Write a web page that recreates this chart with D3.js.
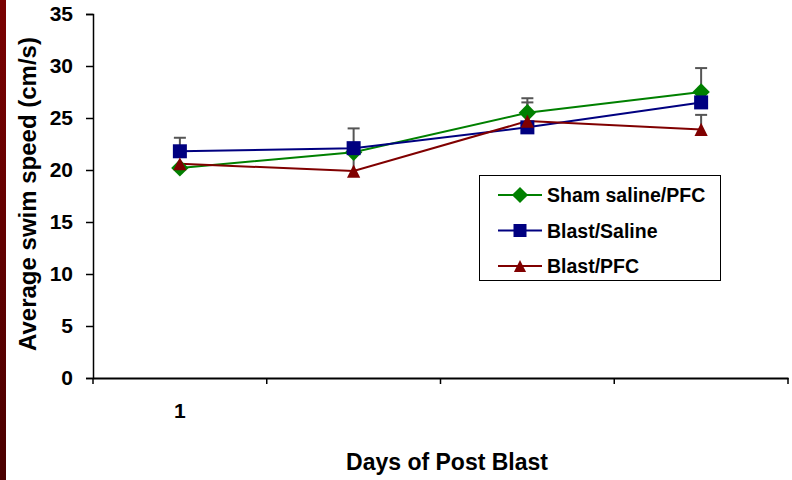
<!DOCTYPE html>
<html lang="en">
<head>
  <meta charset="UTF-8">
  <title>Average swim speed</title>
  <style>
    body { margin: 0; background: #fff; }
    svg { display: block; font-family: Arial, "Liberation Sans", sans-serif; }
  </style>
</head>
<body>
  <svg width="792" height="480"></svg>
  <script src="https://d3js.org/d3.v7.min.js"></script>
  <script>

  var days = ['d1', 'd2', 'd3', 'd4'];
  var dayLabels = ['1', '', '', ''];
  var yTicks = [0, 5, 10, 15, 20, 25, 30, 35];

  var shamValues = [20.2, 21.7, 25.5, 27.5];
  var shamErr = [0, 0, 1.4, 2.3];
  var salineValues = [21.8, 22.1, 24.1, 26.5];
  var salineErr = [1.3, 1.9, 2.4, 0];
  var pfcValues = [20.6, 19.9, 24.7, 23.9];
  var pfcErr = [0, 1.8, 0, 1.4];

  var series = [
    { name: 'Sham saline/PFC', values: shamValues, err: shamErr, color: '#008000', shape: 'diamond' },
    { name: 'Blast/Saline', values: salineValues, err: salineErr, color: '#000080', shape: 'square' },
    { name: 'Blast/PFC', values: pfcValues, err: pfcErr, color: '#800000', shape: 'triangle' }
  ];

  var svg = d3.select('svg');

  // dark red strip on the left edge
  var defs = svg.append('defs');
  var grad = defs.append('linearGradient').attr('id', 'strip')
    .attr('x1', 0).attr('y1', 0).attr('x2', 0).attr('y2', 1);
  grad.append('stop').attr('offset', '0%').attr('stop-color', '#7a0202');
  grad.append('stop').attr('offset', '100%').attr('stop-color', '#4a0000');
  svg.append('rect').attr('x', 0).attr('y', 0).attr('width', 6).attr('height', 480)
    .attr('fill', 'url(#strip)');

  var x = d3.scaleBand().domain(days).range([93, 788]);
  var y = d3.scaleLinear().domain([0, 35]).range([378, 14]);

  var yAxis = svg.append('g')
    .attr('transform', 'translate(93,0)')
    .call(d3.axisLeft(y).tickValues(yTicks).tickSize(7).tickPadding(13));
  yAxis.select('.domain').attr('stroke', '#000').attr('stroke-width', 1.5);
  yAxis.selectAll('.tick line').attr('stroke', '#000').attr('stroke-width', 1.5);
  yAxis.selectAll('.tick text').attr('fill', '#000')
    .style('font-size', '21px').style('font-weight', 'bold');

  var xAxis = svg.append('g')
    .attr('transform', 'translate(0,378)')
    .call(d3.axisBottom(x).tickFormat(function(d, i) { return dayLabels[i]; })
      .tickSize(0).tickPadding(25));
  xAxis.select('.domain').attr('stroke', '#000').attr('stroke-width', 2);
  xAxis.selectAll('.tick text').attr('fill', '#000')
    .style('font-size', '21px').style('font-weight', 'bold');

  // category boundary ticks
  var edges = days.map(function(d) { return x(d); }).concat([x.range()[1]]);
  svg.append('g').selectAll('line').data(edges).enter().append('line')
    .attr('x1', function(d) { return d; }).attr('x2', function(d) { return d; })
    .attr('y1', 378).attr('y2', 384)
    .attr('stroke', '#000').attr('stroke-width', 1.5);

  function cx(i) { return x(days[i]) + x.bandwidth() / 2; }

  function marker(sel, shape, color, size) {
    if (shape === 'square') {
      sel.append('rect').attr('x', -size / 2).attr('y', -size / 2)
        .attr('width', size).attr('height', size).attr('fill', color);
    } else if (shape === 'diamond') {
      var s = size * 0.62;
      sel.append('path').attr('d', 'M0,' + (-s) + 'L' + s + ',0L0,' + s + 'L' + (-s) + ',0Z')
        .attr('fill', color);
    } else {
      var t = size * 0.55;
      sel.append('path').attr('d', 'M0,' + (-t) + 'L' + t + ',' + t + 'L' + (-t) + ',' + t + 'Z')
        .attr('fill', color);
    }
  }

  var line = d3.line()
    .x(function(d, i) { return cx(i); })
    .y(function(d) { return y(d); });

  // error bars first (behind markers)
  series.forEach(function(s) {
    var g = svg.append('g');
    s.values.forEach(function(v, i) {
      if (!s.err[i]) return;
      var top = y(v + s.err[i]);
      g.append('line').attr('x1', cx(i)).attr('x2', cx(i))
        .attr('y1', y(v)).attr('y2', top)
        .attr('stroke', '#555').attr('stroke-width', 2);
      g.append('line').attr('x1', cx(i) - 6).attr('x2', cx(i) + 6)
        .attr('y1', top).attr('y2', top)
        .attr('stroke', '#555').attr('stroke-width', 2);
    });
  });

  series.forEach(function(s) {
    svg.append('path').datum(s.values)
      .attr('d', line).attr('fill', 'none')
      .attr('stroke', s.color).attr('stroke-width', 2);
  });

  series.forEach(function(s) {
    s.values.forEach(function(v, i) {
      var g = svg.append('g').attr('transform', 'translate(' + cx(i) + ',' + y(v) + ')');
      marker(g, s.shape, s.color, s.shape === 'triangle' ? 12 : 14);
    });
  });

  // legend
  var legend = svg.append('g');
  legend.append('rect').attr('x', 479.5).attr('y', 175.5).attr('width', 241).attr('height', 105)
    .attr('fill', '#fff').attr('stroke', '#000').attr('stroke-width', 1);
  series.forEach(function(s, i) {
    var ly = 195 + i * 35.5;
    legend.append('line').attr('x1', 498).attr('x2', 542).attr('y1', ly).attr('y2', ly)
      .attr('stroke', s.color).attr('stroke-width', 2);
    marker(legend.append('g').attr('transform', 'translate(520,' + ly + ')'),
      s.shape, s.color, s.shape === 'triangle' ? 11 : 13);
    legend.append('text').attr('x', 547).attr('y', ly).attr('dy', '0.36em')
      .style('font-size', '19.5px').style('font-weight', 'bold').attr('fill', '#000')
      .text(s.name);
  });

  svg.append('text')
    .attr('transform', 'translate(36,194) rotate(-90)')
    .attr('text-anchor', 'middle')
    .style('font-size', '24px').style('font-weight', 'bold')
    .text('Average swim speed (cm/s)');

  svg.append('text')
    .attr('x', 447).attr('y', 470)
    .attr('text-anchor', 'middle')
    .style('font-size', '23px').style('font-weight', 'bold')
    .text('Days of Post Blast');

  </script>
</body>
</html>
